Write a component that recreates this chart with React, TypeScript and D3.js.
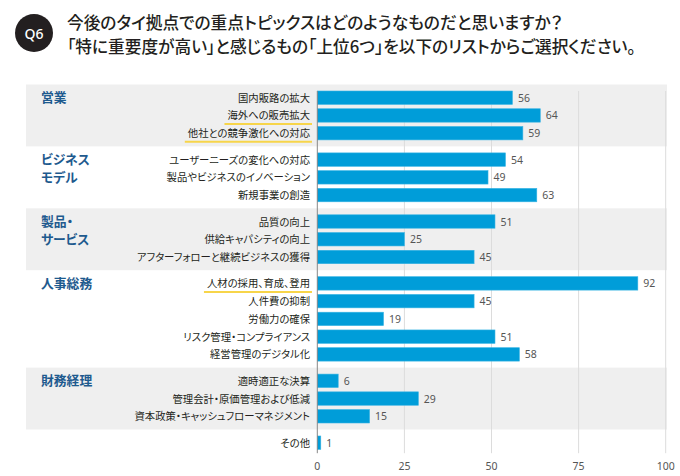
import React from "react";
import * as d3 from "d3";

const titleLines = [
  "今後のタイ拠点での重点トピックスはどのようなものだと思いますか？",
  "「特に重要度が高い」と感じるもの「上位6つ」を以下のリストからご選択ください。",
];
const badge = "Q6";

const groups = ["営業", "ビジネス\nモデル", "製品・\nサービス", "人事総務", "財務経理", ""];
const shadedGroups = [0, 2, 4];

const items = [
  "国内販路の拡大", "海外への販売拡大", "他社との競争激化への対応",
  "ユーザーニーズの変化への対応", "製品やビジネスのイノベーション", "新規事業の創造",
  "品質の向上", "供給キャパシティの向上", "アフターフォローと継続ビジネスの獲得",
  "人材の採用、育成、登用", "人件費の抑制", "労働力の確保", "リスク管理・コンプライアンス", "経営管理のデジタル化",
  "適時適正な決算", "管理会計・原価管理および低減", "資本政策・キャッシュフローマネジメント",
  "その他",
];
const itemGroup = [0, 0, 0, 1, 1, 1, 2, 2, 2, 3, 3, 3, 3, 3, 4, 4, 4, 5];
const values = [56, 64, 59, 54, 49, 63, 51, 25, 45, 92, 45, 19, 51, 58, 6, 29, 15, 1];
const highlighted = ["海外への販売拡大", "他社との競争激化への対応", "人材の採用、育成、登用"];
const xTicks = [0, 25, 50, 75, 100];

const W = 680;
const H = 476;
const FONT = "'Noto Sans CJK JP', 'Noto Sans', sans-serif";
const PALT = { fontFeatureSettings: '"palt"' } as React.CSSProperties;

export default function App() {
  const x = d3.scaleLinear().domain([0, 100]).range([317.3, 665.7]);
  const pitch = 17.75;
  const gap = 8.65;
  const y0 = 97.7;
  const cy = (i: number) => y0 + i * pitch + itemGroup[i] * gap;
  const barH = 13.4;
  const half = pitch / 2 + gap / 2;
  const labelRefs = React.useRef<(SVGTextElement | null)[]>([]);
  const [widths, setWidths] = React.useState<number[]>([]);

  React.useLayoutEffect(() => {
    setWidths(labelRefs.current.map((el) => (el ? el.getComputedTextLength() : 0)));
  }, []);

  const groupRange = (g: number) => {
    const idx = itemGroup.map((gg, i) => (gg === g ? i : -1)).filter((i) => i >= 0);
    return [d3.min(idx)!, d3.max(idx)!];
  };

  const plotTop = cy(0) - barH / 2;
  const plotBottom = cy(items.length - 1) + 10.5;

  return (
    <svg width={W} height={H} style={{ display: "block", position: "absolute", left: 0, top: 0 }} fontFamily={FONT}>
      <rect width={W} height={H} fill="#fff" />
      {/* header */}
      <circle cx={34} cy={33} r={19} fill="#231f20" />
      <text x={34} y={38.5} textAnchor="middle" fill="#fff" fontSize={14} fontWeight={500} fontFamily="'Noto Sans', sans-serif">
        {badge}
      </text>
      {titleLines.map((t, i) => (
        <text key={i} x={67} y={28.5 + i * 24} fontSize={16.7} fontWeight={500} fill="#231f20" style={PALT}>
          {t}
        </text>
      ))}

      {/* shaded bands */}
      {shadedGroups.map((g) => {
        const [a, b] = groupRange(g);
        const top = cy(a) - half;
        const bot = cy(b) + half;
        return <rect key={g} x={26} y={top} width={641} height={bot - top} fill="#efefef" />;
      })}

      {/* grid */}
      {xTicks.slice(1).map((t) => (
        <line key={t} x1={x(t)} x2={x(t)} y1={plotTop} y2={plotBottom} stroke="#dcdcdc" strokeWidth={1} />
      ))}

      {/* group labels */}
      {groups.map((g, gi) => {
        if (!g) return null;
        const [a] = groupRange(gi);
        return (
          <text key={gi} x={41} y={cy(a) + 4.5} fontSize={12.8} fontWeight={700} fill="#1e5a8e" style={PALT}>
            {g.split("\n").map((l, li) => (
              <tspan key={li} x={41} dy={li === 0 ? 0 : 17.5}>
                {l}
              </tspan>
            ))}
          </text>
        );
      })}

      {/* underlines */}
      {items.map((it, i) => {
        if (!highlighted.includes(it)) return null;
        const len = widths[i] ?? it.length * 10;
        return (
          <line key={"u" + it} x1={310 - len - 3} x2={312} y1={cy(i) + 8.5} y2={cy(i) + 8.5} stroke="#f7d54a" strokeWidth={2} />
        );
      })}

      {/* item labels */}
      {items.map((it, i) => (
        <text
          key={it}
          ref={(el) => {
            labelRefs.current[i] = el;
          }}
          x={310}
          y={cy(i) + 4}
          textAnchor="end"
          fontSize={10.35}
          fill="#231f20"
          style={PALT}
        >
          {it}
        </text>
      ))}

      {/* bars */}
      {values.map((v, i) => (
        <rect key={i} x={x(0)} y={cy(i) - barH / 2} width={x(v) - x(0)} height={barH} fill="#009dd9" stroke="#36b3e3" strokeWidth={0.6} />
      ))}
      {values.map((v, i) => (
        <text key={"v" + i} x={x(v) + 5.5} y={cy(i) + 4} fontSize={10.5} fill="#555" fontFamily="'Noto Sans', sans-serif">
          {v}
        </text>
      ))}

      {/* axis */}
      <line x1={x(0)} x2={x(0)} y1={plotTop} y2={plotBottom} stroke="#888" strokeWidth={1} />
      {xTicks.map((t) => (
        <text key={t} x={x(t)} y={470} textAnchor="middle" fontSize={10.5} fill="#555" fontFamily="'Noto Sans', sans-serif">
          {t}
        </text>
      ))}
    </svg>
  );
}
